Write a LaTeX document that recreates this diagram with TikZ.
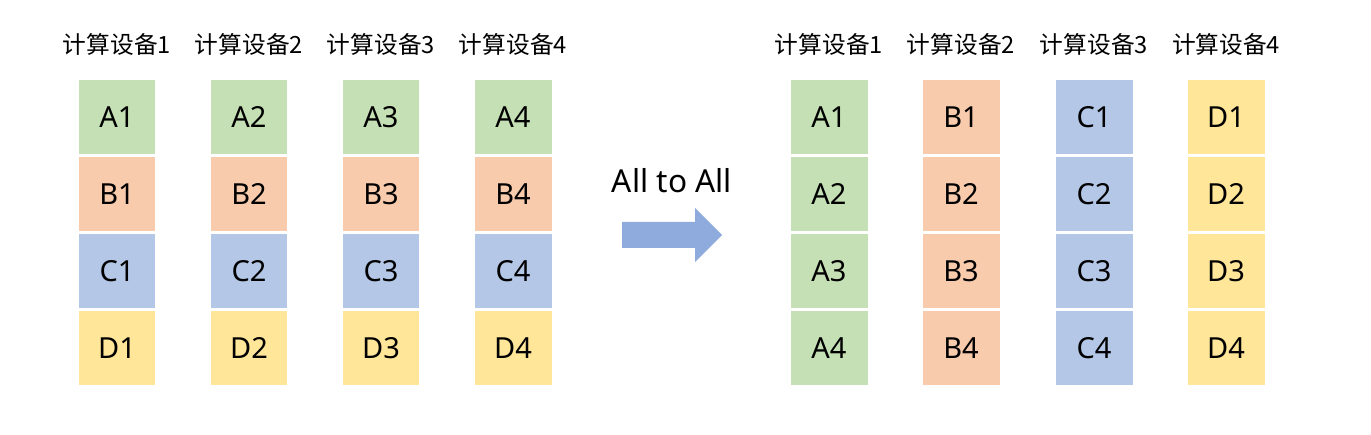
\documentclass[tikz,border=0pt]{standalone}
\usepackage{fontspec}
\setmainfont{Noto Sans}
\newfontfamily\cjk{Noto Sans CJK SC}
\usepackage{tikz}
\usetikzlibrary{positioning}
\definecolor{shardgreen}{HTML}{C5E0B4}
\definecolor{shardorange}{HTML}{F8CBAD}
\definecolor{shardblue}{HTML}{B4C7E7}
\definecolor{shardyellow}{HTML}{FFE699}
\definecolor{arrowblue}{HTML}{8FAADC}

\begin{document}
\begin{tikzpicture}[
        x=0.02cm, y=-0.02cm,
        font=\fontsize{16.5}{19}\selectfont,
        cell/.style={rectangle, fill=#1, inner sep=0pt, minimum width=1.54cm, minimum height=1.48cm},
        devlabel/.style={font=\cjk\fontsize{13.5}{16}\selectfont},
        gap/.style={below=0.047cm of #1}
    ]
        \useasboundingbox (0,0) rectangle (1371,435);

        % before: every device holds one shard per group
        \node[devlabel] (l1) at (117,44) {计算设备1};
        \node[devlabel] (l2) at (249,44) {计算设备2};
        \node[devlabel] (l3) at (381,44) {计算设备3};
        \node[devlabel] (l4) at (513,44) {计算设备4};

        \node[cell=shardgreen] (a1) at (117,117) {A1};
        \node[cell=shardorange, gap=a1] (b1) {B1};
        \node[cell=shardblue, gap=b1] (c1) {C1};
        \node[cell=shardyellow, gap=c1] (d1) {D1};

        \node[cell=shardgreen] (a2) at (249,117) {A2};
        \node[cell=shardorange, gap=a2] (b2) {B2};
        \node[cell=shardblue, gap=b2] (c2) {C2};
        \node[cell=shardyellow, gap=c2] (d2) {D2};

        \node[cell=shardgreen] (a3) at (381,117) {A3};
        \node[cell=shardorange, gap=a3] (b3) {B3};
        \node[cell=shardblue, gap=b3] (c3) {C3};
        \node[cell=shardyellow, gap=c3] (d3) {D3};

        \node[cell=shardgreen] (a4) at (513,117) {A4};
        \node[cell=shardorange, gap=a4] (b4) {B4};
        \node[cell=shardblue, gap=b4] (c4) {C4};
        \node[cell=shardyellow, gap=c4] (d4) {D4};

        % exchange
        \node[font=\fontsize{18}{21}\selectfont] (xchg) at (672,181) {All to All};
        \fill[arrowblue] (622,222) -- (695,222) -- (695,208) -- (722,235)
            -- (695,262) -- (695,248) -- (622,248) -- cycle;

        % after: every device holds one whole group
        \node[devlabel] (r1) at (829,44) {计算设备1};
        \node[devlabel] (r2) at (961,44) {计算设备2};
        \node[devlabel] (r3) at (1094,44) {计算设备3};
        \node[devlabel] (r4) at (1226,44) {计算设备4};

        \node[cell=shardgreen] (ra1) at (829,117) {A1};
        \node[cell=shardgreen, gap=ra1] (ra2) {A2};
        \node[cell=shardgreen, gap=ra2] (ra3) {A3};
        \node[cell=shardgreen, gap=ra3] (ra4) {A4};

        \node[cell=shardorange] (rb1) at (961,117) {B1};
        \node[cell=shardorange, gap=rb1] (rb2) {B2};
        \node[cell=shardorange, gap=rb2] (rb3) {B3};
        \node[cell=shardorange, gap=rb3] (rb4) {B4};

        \node[cell=shardblue] (rc1) at (1094,117) {C1};
        \node[cell=shardblue, gap=rc1] (rc2) {C2};
        \node[cell=shardblue, gap=rc2] (rc3) {C3};
        \node[cell=shardblue, gap=rc3] (rc4) {C4};

        \node[cell=shardyellow] (rd1) at (1226,117) {D1};
        \node[cell=shardyellow, gap=rd1] (rd2) {D2};
        \node[cell=shardyellow, gap=rd2] (rd3) {D3};
        \node[cell=shardyellow, gap=rd3] (rd4) {D4};
    \end{tikzpicture}
\end{document}
